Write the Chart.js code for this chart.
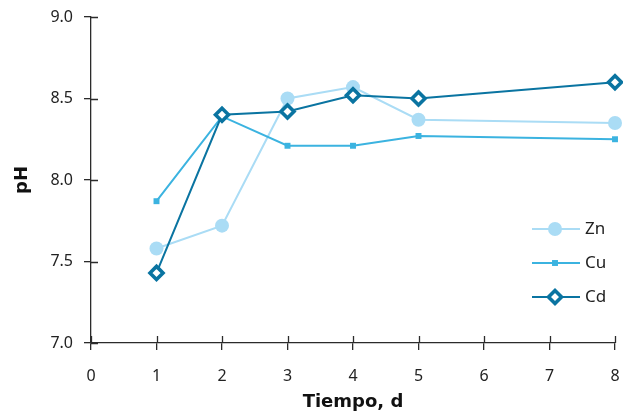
<!DOCTYPE html>
<html>
<head>
<meta charset="utf-8">
<script src="https://cdn.jsdelivr.net/npm/chart.js@4/dist/chart.umd.min.js"></script>
<style>
  html, body { margin: 0; padding: 0; background: #fff; overflow: hidden; }
  canvas { display: block; }
</style>
</head>
<body>
<canvas id="chart" width="623" height="416"></canvas>
<script>
// --- datos ---
const dias = [1, 2, 3, 4, 5, 8];
const phZn = [7.58, 7.72, 8.50, 8.57, 8.37, 8.35];
const phCu = [7.87, 8.39, 8.21, 8.21, 8.27, 8.25];
const phCd = [7.43, 8.40, 8.42, 8.52, 8.50, 8.60];
const xTicks = [0, 1, 2, 3, 4, 5, 6, 7, 8];
const yTicks = [7.0, 7.5, 8.0, 8.5, 9.0];

const AXIS = '#2b2b2b';
const TEXT = '#222';
const TICK_LEN = 7;

const series = [
    { label: 'Zn', data: phZn, color: '#aadcf5', style: 'circle', radius: 7, bg: '#aadcf5', bw: 0, order: 2 },
    { label: 'Cu', data: phCu, color: '#3bb3e0', style: 'rect', radius: 4.2, bg: '#3bb3e0', bw: 0, order: 1 },
    { label: 'Cd', data: phCd, color: '#0a74a1', style: 'rectRot', radius: 6.5, bg: '#ffffff', bw: 3.6, order: 0 }
];

const toPoints = vals => vals.map((v, i) => ({ x: dias[i], y: v }));

// ticks que cruzan el eje (parte interior)
const innerTicks = {
    id: 'innerTicks',
    afterDraw(chart) {
        const { ctx, chartArea, scales } = chart;
        ctx.save();
        ctx.strokeStyle = AXIS;
        ctx.lineWidth = 1.3;
        ctx.beginPath();
        xTicks.forEach(t => {
            const px = Math.round(scales.x.getPixelForValue(t)) + 0.5;
            ctx.moveTo(px, chartArea.bottom);
            ctx.lineTo(px, chartArea.bottom - TICK_LEN);
        });
        yTicks.forEach(t => {
            const py = Math.round(scales.y.getPixelForValue(t)) + 0.5;
            ctx.moveTo(chartArea.left, py);
            ctx.lineTo(chartArea.left + TICK_LEN, py);
        });
        ctx.stroke();
        ctx.restore();
    }
};

// leyenda a la derecha
function marker(ctx, s, x, y) {
    ctx.fillStyle = s.bg;
    ctx.strokeStyle = s.color;
    ctx.lineWidth = s.bw;
    ctx.beginPath();
    if (s.style === 'circle') {
        ctx.arc(x, y, s.radius, 0, Math.PI * 2);
    } else if (s.style === 'rect') {
        const h = Math.SQRT1_2 * s.radius;
        ctx.rect(x - h, y - h, 2 * h, 2 * h);
    } else {
        const r = s.radius;
        ctx.moveTo(x, y - r);
        ctx.lineTo(x + r, y);
        ctx.lineTo(x, y + r);
        ctx.lineTo(x - r, y);
        ctx.closePath();
    }
    ctx.fill();
    if (s.bw) ctx.stroke();
}

const sideLegend = {
    id: 'sideLegend',
    afterDraw(chart) {
        const ctx = chart.ctx;
        const rows = [229, 263, 297];
        ctx.save();
        series.forEach((s, i) => {
            const y = rows[i];
            ctx.strokeStyle = s.color;
            ctx.lineWidth = 2;
            ctx.beginPath();
            ctx.moveTo(532, y);
            ctx.lineTo(580, y);
            ctx.stroke();
            marker(ctx, s, 555, y);
            ctx.fillStyle = TEXT;
            ctx.font = '17px "Noto Sans", sans-serif';
            ctx.textBaseline = 'middle';
            ctx.textAlign = 'left';
            ctx.fillText(s.label, 585, y);
        });
        ctx.restore();
    }
};

new Chart(document.getElementById('chart'), {
    type: 'line',
    data: {
        datasets: series.map(s => ({
            label: s.label,
            data: toPoints(s.data),
            borderColor: s.color,
            borderWidth: 2,
            pointStyle: s.style,
            pointRadius: s.radius,
            pointHoverRadius: s.radius,
            pointBackgroundColor: s.bg,
            pointBorderColor: s.color,
            pointBorderWidth: s.bw,
            tension: 0,
            clip: false,
            order: s.order
        }))
    },
    options: {
        responsive: false,
        animation: false,
        layout: { autoPadding: false, padding: { top: 17, right: 8, left: 0, bottom: 0 } },
        plugins: { legend: { display: false }, tooltip: { enabled: false } },
        scales: {
            x: {
                type: 'linear',
                min: 0,
                max: 8,
                afterBuildTicks: sc => { sc.ticks = xTicks.map(v => ({ value: v })); },
                afterFit: sc => { sc.height = 73; sc.paddingLeft = 0; sc.paddingRight = 0; },
                grid: { drawOnChartArea: false, tickLength: TICK_LEN, color: AXIS, lineWidth: 1.3 },
                border: { color: AXIS, width: 1.3 },
                ticks: { color: TEXT, font: { family: '"Noto Sans", sans-serif', size: 16 }, padding: 17, maxRotation: 0 },
                title: {
                    display: true,
                    text: 'Tiempo, d',
                    color: '#111',
                    font: { family: '"DejaVu Sans", sans-serif', size: 18, weight: 'bold' },
                    padding: { top: 0, bottom: 3 }
                }
            },
            y: {
                min: 7,
                max: 9,
                afterBuildTicks: sc => { sc.ticks = yTicks.map(v => ({ value: v })); },
                afterFit: sc => { sc.width = 91; sc.paddingTop = 0; sc.paddingBottom = 0; },
                grid: { drawOnChartArea: false, tickLength: TICK_LEN, color: AXIS, lineWidth: 1.3 },
                border: { color: AXIS, width: 1.3 },
                ticks: {
                    color: TEXT,
                    font: { family: '"Noto Sans", sans-serif', size: 16 },
                    padding: 11,
                    callback: v => Number(v).toFixed(1)
                },
                title: {
                    display: true,
                    text: 'pH',
                    color: '#111',
                    font: { family: '"DejaVu Sans", sans-serif', size: 18, weight: 'bold' },
                    padding: { top: 12, bottom: 0 }
                }
            }
        }
    },
    plugins: [innerTicks, sideLegend]
});
</script>
</body>
</html>
